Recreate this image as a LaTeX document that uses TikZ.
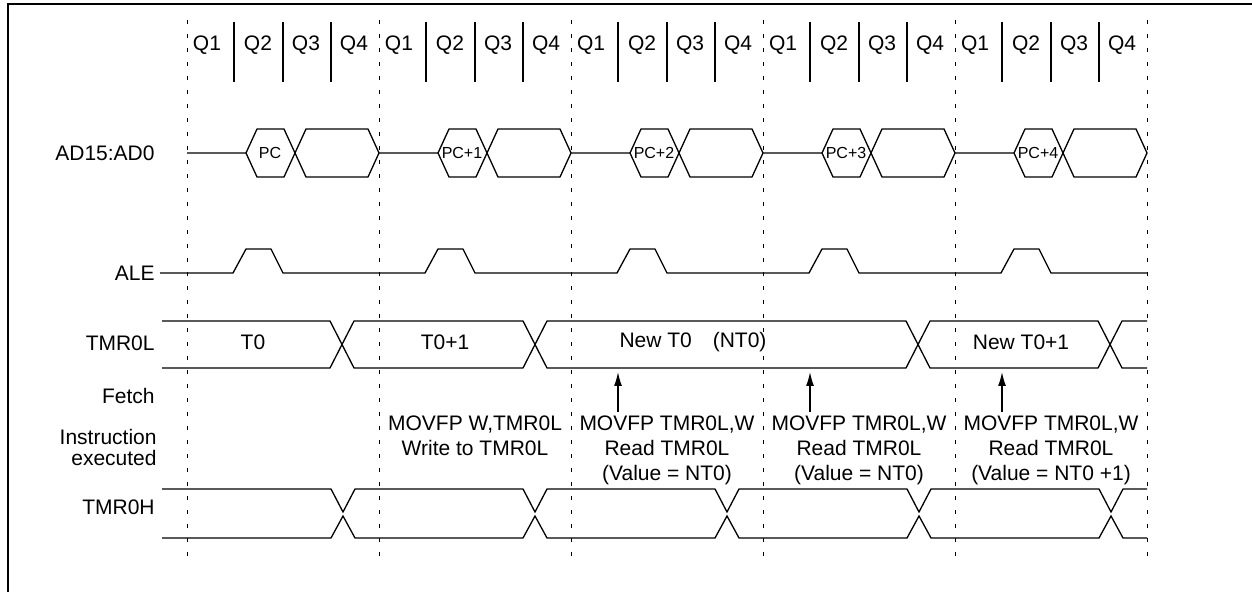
\documentclass[tikz,border=0pt]{standalone}
\usepackage{fontspec}
\setmainfont{Liberation Sans}
\usetikzlibrary{arrows.meta, positioning, calc}

\begin{document}
\begin{tikzpicture}[x=0.5pt, y=-0.5pt,
    font=\fontsize{10.5}{12.5}\selectfont,
    sig/.style={line width=0.65pt},
    grid/.style={line width=0.5pt, dash pattern=on 2pt off 5pt},
    qline/.style={line width=0.6pt},
    lbl/.style={anchor=east, inner sep=0pt},
    pclbl/.style={inner sep=0pt, font=\fontsize{8}{9}\selectfont},
    instr/.style={anchor=north, align=center, inner sep=0pt}]
  \useasboundingbox (0,0) rectangle (1252,592);
  \draw[line width=1pt] (8,592) -- (8,4) -- (1252,4);

  % cycle boundaries and quarters
  \foreach \c in {187,379,571,763,955,1147}
    \draw[grid] (\c,20) -- (\c,558);
  \foreach \c [count=\k] in {187,379,571,763,955} {
    \foreach \q in {47,96,144}
      \draw[qline] (\c+\q,22) -- (\c+\q,82);
    \node (qa\k) at (\c+20,45) {Q1};
    \node (qb\k) at (\c+71,45) {Q2};
    \node (qc\k) at (\c+119,45) {Q3};
    \node (qd\k) at (\c+167,45) {Q4};
  }

  % signal names
  \node[lbl] (ad) at (155,153) {AD15:AD0};
  \node[lbl] (ale) at (155,273) {ALE};
  \node[lbl] (tmrl) at (155,343) {TMR0L};
  \node[lbl] (fetch) at (155,396) {Fetch};
  \node[lbl, align=right, font=\fontsize{10.5}{10.5}\selectfont] (exec) at (157,447) {Instruction\\executed};
  \node[lbl] (tmrh) at (155,507) {TMR0H};

  % AD15:AD0
  \foreach \c/\t [count=\k] in {187/PC, 379/PC+1, 571/PC+2, 763/PC+3, 955/PC+4} {
    \draw[sig] (\c,153) -- (\c+59,153) -- (\c+70,129) -- (\c+97,129)
      -- (\c+119,177) -- (\c+181,177) -- (\c+192,153);
    \draw[sig] (\c+59,153) -- (\c+70,177) -- (\c+97,177)
      -- (\c+119,129) -- (\c+181,129) -- (\c+192,153);
    \node[pclbl] (pc\k) at (\c+83,153) {\t};
  }

  % ALE
  \draw[sig] (160,273) \foreach \c in {187,379,571,763,955} {
      -- (\c+46,273) -- (\c+59,249) -- (\c+84,249) -- (\c+96,273) } -- (1147,273);

  % TMR0L
  \draw[sig] (162,321) -- (330,321) -- (354,368) -- (523,368) -- (547,321)
    -- (906,321) -- (930,368) -- (1098,368) -- (1122,321) -- (1147,321);
  \draw[sig] (162,368) -- (330,368) -- (354,321) -- (523,321) -- (547,368)
    -- (906,368) -- (930,321) -- (1098,321) -- (1122,368) -- (1147,368);
  \node (t0) at (253,342) {T0};
  \node (t0p) at (445,342) {T0+1};
  \node (nt0) at (693,342) {New T0\quad(NT0)};
  \node (nt0p) at (1021,342) {New T0+1};

  % instructions
  \node[instr] (ex2) at (475,415) {MOVFP W,TMR0L\\Write to TMR0L};
  \node[instr] (ex3) at (667,415) {MOVFP TMR0L,W\\Read TMR0L\\(Value = NT0)};
  \node[instr] (ex4) at (859,415) {MOVFP TMR0L,W\\Read TMR0L\\(Value = NT0)};
  \node[instr] (ex5) at (1051,415) {MOVFP TMR0L,W\\Read TMR0L\\(Value = NT0 +1)};

  % read points
  \foreach \x [count=\k] in {618,810,1002} {
    \coordinate (rd\k) at (\x,412);
    \coordinate (tp\k) at (\x,372);
    \draw[sig, -{Latex[length=7pt,width=4pt]}] (rd\k) -- (tp\k);
  }

  % TMR0H
  \draw[sig] (162,489) \foreach \c in {187,379,571,763,955} {
      -- (\c+144,489) -- (\c+156,512) -- (\c+168,489) } -- (1147,489);
  \draw[sig] (162,538) \foreach \c in {187,379,571,763,955} {
      -- (\c+144,538) -- (\c+156,516) -- (\c+168,538) } -- (1147,538);
\end{tikzpicture}
\end{document}
